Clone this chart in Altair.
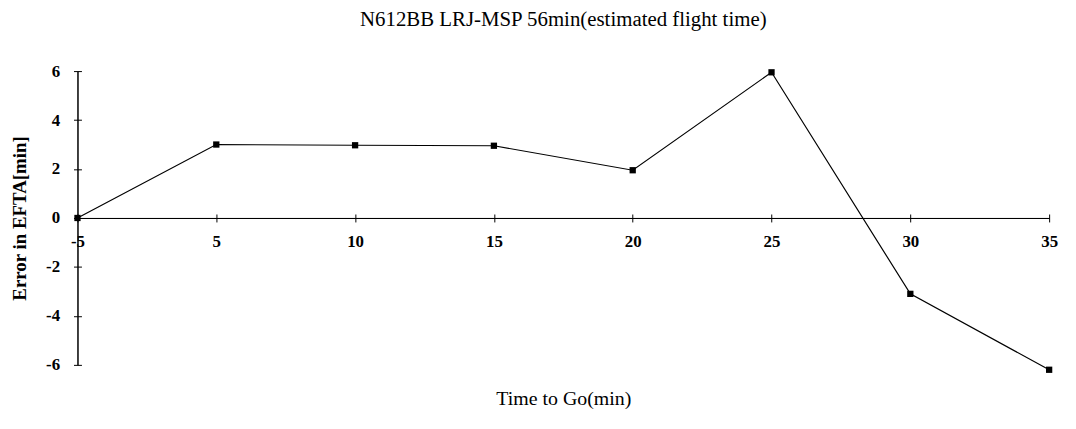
import altair as alt
import pandas as pd

time_to_go = [-5, 5, 10, 15, 20, 25, 30, 35]
error_min = [0.0, 3.0, 2.97, 2.95, 1.95, 5.95, -3.1, -6.2]
y_ticks = [-6, -4, -2, 0, 2, 4, 6]

df = pd.DataFrame({"t": time_to_go, "e": error_min})

W, H = 979, 296
FONT = "Liberation Serif"
LBL = "'' + datum.value"

xscale = alt.Scale(type="point", padding=0)
yscale = alt.Scale(domain=[-6, 6], nice=False, zero=False)

base = alt.Chart(df)

line = base.mark_line(color="black", strokeWidth=1.2).encode(
    x=alt.X("t:O", scale=xscale, sort=time_to_go,
            axis=alt.Axis(orient="bottom", offset=-H / 2, title="Time to Go(min)",
                          grid=False, labelAngle=0, labelExpr=LBL,
                          labelFont=FONT, labelFontSize=17,
                          labelFontWeight="bold", labelPadding=12, labelColor="black",
                          domainColor="black", tickColor="black", tickSize=4,
                          titleFont=FONT, titleFontSize=20, titleFontWeight="normal",
                          titleY=188, titleBaseline="alphabetic", titleColor="black")),
    y=alt.Y("e:Q", scale=yscale,
            axis=alt.Axis(values=y_ticks, title="Error in EFTA[min]", grid=False,
                          labelExpr=LBL,
                          labelFont=FONT, labelFontSize=17, labelFontWeight="bold",
                          labelPadding=14, labelColor="black",
                          domainColor="black", tickColor="black", tickSize=4,
                          titleFont=FONT, titleFontSize=19, titleFontWeight="bold",
                          titlePadding=16, titleColor="black")),
)

points = base.mark_square(color="black", size=40, opacity=1).encode(
    x=alt.X("t:O", scale=xscale, sort=time_to_go,
            axis=alt.Axis(orient="top", offset=-H / 2, labels=False, title=None,
                          grid=False,
                          domainColor="black", tickColor="black", tickSize=4)),
    y=alt.Y("e:Q", scale=yscale,
            axis=alt.Axis(orient="right", offset=-W, values=y_ticks, labels=False,
                          title=None, grid=False,
                          domainColor="black", tickColor="black", tickSize=4)),
)

chart = alt.layer(line, points).resolve_axis(x="independent", y="independent").properties(
    width=W, height=H,
    view=alt.ViewBackground(stroke="transparent", strokeWidth=0),
    title=alt.TitleParams("N612BB LRJ-MSP 56min(estimated flight time)",
                          font=FONT, fontSize=21, fontWeight="normal", color="black",
                          offset=32, anchor="middle"),
    autosize=alt.AutoSizeParams(type="none"),
    padding={"left": 70, "top": 62, "right": 19, "bottom": 55},
).configure_view(strokeWidth=0, stroke="transparent").configure_axis(
    grid=False
).configure(background="white")

chart.save("out.html", embed_options={"renderer": "svg", "actions": False})
